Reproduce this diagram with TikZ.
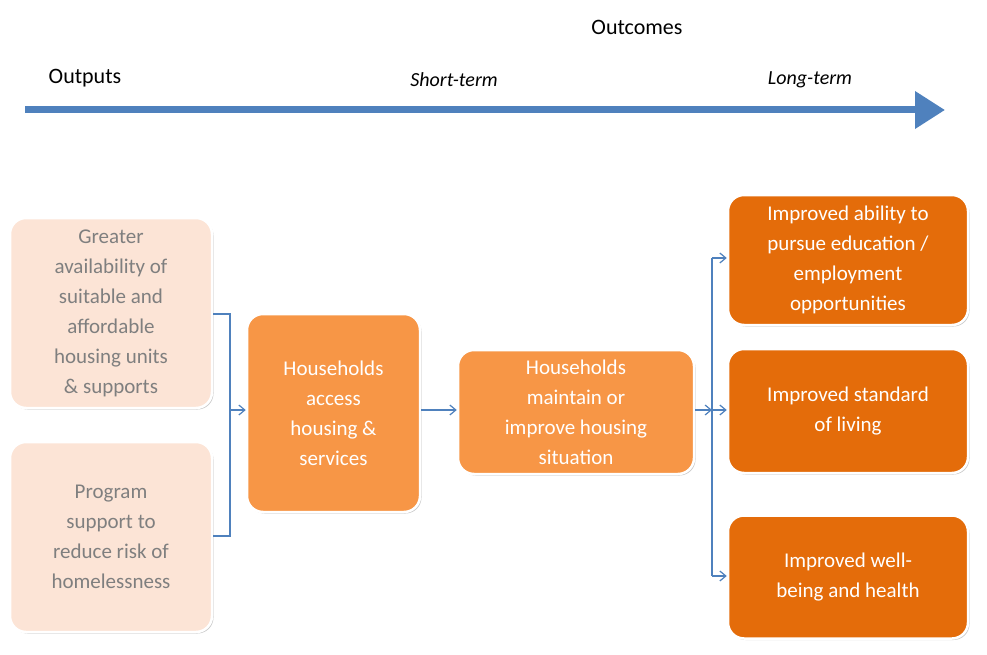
\documentclass[tikz,border=0pt]{standalone}
\usepackage{fontspec}
\setmainfont{Carlito}
\usetikzlibrary{shadows,arrows.meta,positioning}
\definecolor{peach}{HTML}{FCE4D6}
\definecolor{org}{HTML}{F79646}
\definecolor{dorg}{HTML}{E46C0A}
\definecolor{blu}{HTML}{4F81BD}
\definecolor{gtxt}{HTML}{7F7F7F}
\begin{document}
\begin{tikzpicture}[x=1pt,y=-1pt,
 box/.style={draw=white,line width=2.5pt,rounded corners=16pt,align=center,font=\fontsize{21}{30}\selectfont,
   drop shadow={shadow xshift=1.5pt,shadow yshift=-1.5pt,opacity=0.35,fill=black!60},inner sep=0pt},
 lt/.style={box,fill=peach,text=gtxt},
 md/.style={box,fill=org,text=white},
 dk/.style={box,fill=dorg,text=white},
 con/.style={draw=blu,line width=1.2pt},
 arr/.style={con,-{Straight Barb[length=6pt,width=10pt]}},
 lab/.style={font=\fontsize{22}{26}\selectfont}]
\useasboundingbox (0,0) rectangle (987,655);
\node[lab] (oc) at (637,27) {Outcomes};
\node[lab] (op) at (85,78) {Outputs};
\node[lab,font=\fontsize{20}{24}\selectfont\itshape] (st) at (454,80) {Short-term};
\node[lab,font=\fontsize{20}{24}\selectfont\itshape] (lt) at (810,80) {Long-term};
\coordinate (a0) at (25,110); \coordinate (a1) at (945,110);
\draw[blu,line width=7pt,-{Triangle[length=30pt,width=36pt]}] (a0) -- (a1);

\node[lt,minimum width=202pt,minimum height=190pt] (A) at (111,313) {Greater\\availability of\\suitable and\\affordable\\housing units\\\& supports};
\node[lt,minimum width=202pt,minimum height=190pt] (B) at (111,537) {Program\\support to\\reduce risk of\\homelessness};
\node[md,minimum width=173pt,minimum height=198pt] (C) at (333.5,413) {Households\\access\\housing \&\\services};
\node[md,minimum width=236pt,minimum height=124pt] (D) at (576,412) {Households\\maintain or\\improve housing\\situation};
\node[dk,minimum width=240pt,minimum height=130pt] (E) at (848,260) {Improved ability to\\pursue education /\\employment\\opportunities};
\node[dk,minimum width=240pt,minimum height=124pt] (F) at (848,411) {Improved standard\\of living};
\node[dk,minimum width=240pt,minimum height=123pt] (G) at (848,577) {Improved well-\\being and health};

\coordinate (j1) at (230,410);
\draw[con] (A.east |- 0,314) -| (j1);
\draw[con] (B.east |- 0,536) -| (j1);
\draw[arr] (j1) -- (j1 -| C.west);
\draw[arr] (C.east |- 0,410) -- (D.west |- 0,410);
\coordinate (j2) at (712,410);
\draw[arr] (D.east |- 0,410) -- (j2);
\draw[con] (712,258) -- (712,576);
\draw[arr] (712,258) -- (E.west |- 0,258);
\draw[arr] (j2) -- (F.west |- 0,410);
\draw[arr] (712,576) -- (G.west |- 0,576);
\end{tikzpicture}
\end{document}
